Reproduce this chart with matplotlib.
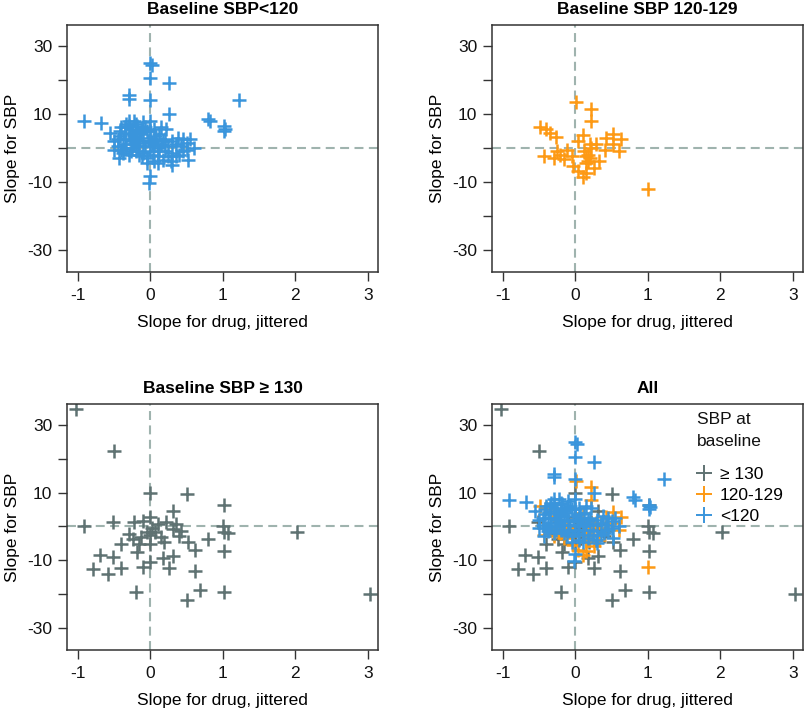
import matplotlib
matplotlib.use("Agg")
import matplotlib.pyplot as plt
from matplotlib.lines import Line2D

plt.rcParams['font.family'] = ['Liberation Sans', 'DejaVu Sans']

# ---------------- data ----------------
blue_x = [0.0, 0.02, 0.0, 0.26, -0.3, -0.29, 0.0, 1.22, 0.26, -0.92, -0.68, 0.8, 0.82,
          1.02, 1.03, 1.02, 0.0, -0.02, 0.52, 0.3, -0.43,
          -0.55, -0.5, -0.45, -0.42, -0.4, -0.38, -0.35, -0.33, -0.3, -0.3, -0.28, -0.25,
          -0.25, -0.22, -0.2, -0.2, -0.18, -0.15, -0.15, -0.12, -0.1, -0.1, -0.08, -0.05,
          -0.05, 0.0, 0.0, 0.0, 0.02, 0.05, 0.05, 0.08, 0.1, 0.1, 0.12, 0.15, 0.18, 0.2,
          0.2, 0.22, 0.25, 0.28, 0.3, 0.3, 0.35, 0.38, 0.4, 0.42, 0.45, 0.5, 0.5, 0.55,
          0.6, -0.5, -0.35, -0.2, 0.15, 0.25, 0.1, -0.05,
          -0.42, -0.38, -0.33, -0.3, -0.27, -0.23, -0.2, -0.17, -0.13, -0.1, -0.07, -0.03,
          0.03, 0.07, 0.12, 0.17, -0.45, -0.4, -0.35, -0.25, -0.15, -0.12, 0.0, 0.05,
          -0.3, -0.22, 0.35, 0.45]
blue_y = [25, 24.5, 20.5, 19, 15.5, 14.5, 14, 14, 10, 7.8, 7.2, 8.6, 7.8,
          6.4, 5.6, 5.0, -8.3, -10.4, -3.5, -5, -3,
          4.5, 2, 0.5, 3.5, 6, -1.5, 1, 7, 4, -2, 2.5, 5.5,
          0, 8, 3, -1, 6.5, 1.5, 4.5, -2.5, 2, 7.5, 0.5, 5,
          -3, 3, 8, -1, 1.5, 5.5, -4, 2.5, 0, -2.5, 4, 1, -3.5, 2.5,
          -1, 5.5, 0.5, -4, 2, -1.5, 1, 3, -2, 0.5, 2.5, 1.5, -0.5, 2.5,
          0, -0.5, 4.5, 5, 6, -2.5, -4.5, -4.5,
          5, 2.5, 0, 6.5, -1, 3.5, 7, 0.5, 4, -1.5, 6, 2,
          -2, 3.5, -1, 2, 2.5, -0.5, 6, 2, -2, 5.5, 5, 0.5,
          8, 1, -2.5, -1]

orange_x = [0.01, 0.22, 0.22, -0.49, -0.4, -0.35, -0.27, 1.0, 0.42, 0.52, 0.63, 0.41,
            0.6, 0.52, -0.43, -0.26, 0.1, 0.04, 0.2, 0.29, -0.12, -0.05, 0.15, -0.15,
            0.15, 0.33, -0.03, 0.04, 0.15, 0.1, 0.17, 0.26, -0.21, -0.3, 0.18, 0.2,
            0.12, 0.22]
orange_y = [13.5, 11.5, 7.8, 6.1, 5.4, 4.4, 3.1, -12, 2.9, 4.1, 2.7, -0.5,
            -1, 1, -2.5, -1, 3.9, 2, 1, 1, -0.5, -2.5, -2.5, -3.4,
            -4.4, -3.9, -5.4, -6.9, -7.4, -8.6, -4, -5.9, -2, -3, -2, -3,
            -1, 0]

grey_x = [-1.02, -0.5, 0.0, 0.51, 1.01, 0.31, -0.92, -0.52, 2.02, 3.03, -0.2, 0.51,
          0.69, 1.01, 1.01, 1.01, 1.07, 1.0, 0.79, 0.61, 0.61, -0.69, -0.52, -0.4,
          -0.79, -0.59, -0.4, -0.1, -0.01, 0.26, 0.17, 0.31, -0.18, 0.52, 0.42,
          -0.22, -0.1, 0.0, -0.04, 0.06, 0.1, 0.22, 0.35, -0.29, -0.24, -0.13, 0.15,
          0.19, -0.01, -0.16, 0.31, 0.4, 0.0, 0.02]
grey_y = [34.7, 22.4, 9.9, 9.6, 6.3, 4.6, 0.0, 1.4, -1.8, -20, -19.3, -21.7,
          -18.8, -19.3, -7.2, -1.6, -2.0, 0.0, -3.7, -6.9, -13.3, -8.5, -9.2, -5.2,
          -12.6, -14.1, -12.4, -12.1, -10.6, -12.4, -9.5, -8.7, -7.5, -4.7, -1.3,
          1.2, 1.7, 2.7, -1.8, -1.8, 0.7, 1.2, 0.7, -2.2, -3.7, -3.3, -3.3,
          -4.7, -5.2, -5.2, -0.8, -2.8, -2.5, -0.5]

titles = ["Baseline SBP<120", "Baseline SBP 120-129", "Baseline SBP \u2265 130", "All"]
legend_title = ["SBP at", "baseline"]
legend_labels = ["\u2265 130", "120-129", "<120"]
xticks = [-1, 0, 1, 2, 3]
yticks = [-30, -20, -10, 0, 10, 20, 30]
ytick_labels = ["-30", "", "-10", "", "10", "", "30"]

# ---------------- style ----------------
BLUE = "#3a95dc"
ORANGE = "#fd9914"
GREY = "#5f7272"
REF = "#9fb3ae"
SPINE = "#333333"
FS = 12.5

W, H = 805, 711
fig = plt.figure(figsize=(W / 100, H / 100), dpi=100)

def ax_at(l, r, t, b):
    return fig.add_axes([l / W, 1 - b / H, (r - l) / W, (b - t) / H])

axes = [ax_at(67, 378, 25, 272), ax_at(492, 803, 25, 272),
        ax_at(67, 378, 404, 650), ax_at(492, 803, 404, 650)]

mk = dict(marker='+', linestyle='none', markersize=10.5, markeredgewidth=1.8)

def style(ax, title):
    ax.axhline(0, color=REF, lw=1.5, dashes=(4.3, 2.6), zorder=0)
    ax.axvline(0, color=REF, lw=1.5, dashes=(4.3, 2.6), zorder=0)
    ax.set_xlim(-1.15, 3.14)
    ax.set_ylim(-36.6, 36.2)
    ax.set_xticks(xticks)
    ax.set_xticklabels([str(v) for v in xticks])
    ax.set_yticks(yticks)
    ax.set_yticklabels(ytick_labels)
    ax.tick_params(direction='out', length=6.5, width=1, colors=SPINE,
                   labelsize=FS, labelcolor='#111111')
    ax.tick_params(axis='x', pad=5)
    ax.tick_params(axis='y', pad=4)
    for s in ax.spines.values():
        s.set_color(SPINE)
        s.set_linewidth(1.1)
    ax.set_xlabel("Slope for drug, jittered", fontsize=FS, labelpad=9)
    ax.set_ylabel("Slope for SBP", fontsize=FS, labelpad=5)
    ax.set_title(title, fontsize=FS, fontweight='bold', pad=8)

axes[0].plot(blue_x, blue_y, color=BLUE, **mk)
axes[1].plot(orange_x, orange_y, color=ORANGE, **mk)
axes[2].plot(grey_x, grey_y, color=GREY, **mk)
axes[3].plot(grey_x, grey_y, color=GREY, **mk)
axes[3].plot(orange_x, orange_y, color=ORANGE, **mk)
axes[3].plot(blue_x, blue_y, color=BLUE, **mk)

for ax, t in zip(axes, titles):
    style(ax, t)

ax = axes[3]
for txt, ypx in zip(legend_title, (420, 442)):
    ax.text((697 - 492) / 311, (650 - ypx) / 246, txt, transform=ax.transAxes,
            ha='left', va='center', fontsize=FS, color='#111111')

handles = [Line2D([], [], color=c, marker='+', linestyle='none', markersize=12,
                  markeredgewidth=1.4) for c in (GREY, ORANGE, BLUE)]
leg = ax.legend(handles, legend_labels,
                loc='upper left', bbox_to_anchor=(0.657, (650 - 467) / 246),
                frameon=False, fontsize=FS,
                handlelength=0.9, handletextpad=0.45, labelspacing=0.34,
                borderaxespad=0.0, borderpad=0.0)

fig.savefig("out.png", dpi=100)
